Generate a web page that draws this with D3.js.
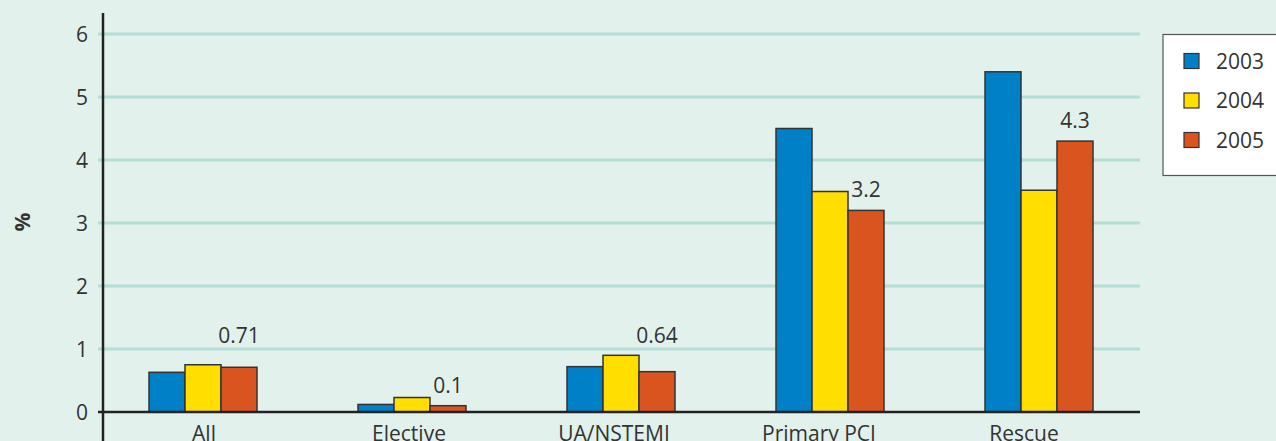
<!DOCTYPE html>
<html><head><meta charset="utf-8">
<script src="https://cdn.jsdelivr.net/npm/d3@7/dist/d3.min.js"></script>
<style>
html,body{margin:0;padding:0;background:#e3f1ed;}
svg{display:block;}
text{font-family:"Open Sans","Noto Sans",sans-serif;fill:#333;}
</style></head>
<body>
<script>
const categories = ["All","Elective","UA/NSTEMI","Primary PCI","Rescue"];
const years = ["2003","2004","2005"];
const v2003 = [0.63,0.12,0.72,4.5,5.4];
const v2004 = [0.75,0.23,0.9,3.5,3.52];
const v2005 = [0.71,0.1,0.64,3.2,4.3];
const labelValues = ["0.71","0.1","0.64","3.2","4.3"];
const yTicks = [0,1,2,3,4,5,6];
const colors = ["#0080c6","#ffde00","#da541f"];

const W=1276,H=441, FS=21;
const svg=d3.select("body").append("svg").attr("width",W).attr("height",H);
svg.append("rect").attr("width",W).attr("height",H).attr("fill","#e3f1ed");

const x0=d3.scaleBand().domain(categories).range([98.5,1143.5]).padding(0);
const xl=d3.scaleBand().domain(categories).range([101.5,1126.5]).padding(0);
const x1=d3.scaleBand().domain(years).range([0,108]);
const y=d3.scaleLinear().domain([0,6]).range([412,34]);
const series=[v2003,v2004,v2005];

// gridlines
svg.append("g").selectAll("line").data(yTicks.filter(d=>d>0)).join("line")
  .attr("x1",98).attr("x2",1140).attr("y1",d=>y(d)).attr("y2",d=>y(d))
  .attr("stroke","#b4ddd5").attr("stroke-width",3);

// y tick labels
svg.append("g").selectAll("text").data(yTicks).join("text")
  .attr("x",88).attr("y",d=>y(d)).attr("dy","0.36em").attr("text-anchor","end")
  .attr("font-size",FS).text(d=>d);

// bars
const g=svg.append("g");
categories.forEach((c,i)=>{
  years.forEach((yr,j)=>{
    const v=series[j][i];
    const bx=x0(c)+x0.bandwidth()/2-54+x1(yr);
    g.append("rect").attr("x",bx).attr("y",y(v)).attr("width",x1.bandwidth()).attr("height",y(0)-y(v))
     .attr("fill",colors[j]).attr("stroke","#333").attr("stroke-width",1.5);
  });
  const v=v2005[i];
  let by=y(v)-13;
  const top=by-15;
  yTicks.forEach(t=>{const gy=y(t); if(t>0 && gy>top-2 && gy<by+4) by=gy-6;});
  svg.append("text").attr("x",x0(c)+x0.bandwidth()/2-54+x1("2005")+x1.bandwidth()/2)
    .attr("y",by).attr("text-anchor","middle").attr("font-size",FS).text(labelValues[i]);
});

// axes
svg.append("line").attr("x1",98).attr("x2",1140).attr("y1",y(0)).attr("y2",y(0)).attr("stroke","#222").attr("stroke-width",2.5);
svg.append("line").attr("x1",103).attr("x2",103).attr("y1",13).attr("y2",H).attr("stroke","#222").attr("stroke-width",2.5);

// category labels
svg.append("g").selectAll("text").data(categories).join("text")
  .attr("x",d=>xl(d)+xl.bandwidth()/2).attr("y",441).attr("text-anchor","middle")
  .attr("font-size",FS).text(d=>d);

// y title
svg.append("text").attr("transform","translate(30,222) rotate(-90)").attr("text-anchor","middle")
  .attr("font-size",FS).attr("font-weight","bold").text("%");

// legend
const lg=svg.append("g");
lg.append("rect").attr("x",1163).attr("y",34.5).attr("width",130).attr("height",141)
  .attr("fill","#fff").attr("stroke","#555").attr("stroke-width",1.2);
years.forEach((yr,j)=>{
  const cy=61+j*39.5;
  lg.append("rect").attr("x",1184).attr("y",cy-7.5).attr("width",15).attr("height",15)
    .attr("fill",colors[j]).attr("stroke","#333").attr("stroke-width",1.2);
  lg.append("text").attr("x",1216).attr("y",cy).attr("dy","0.36em").attr("font-size",FS).text(yr);
});
</script>
</body></html>
